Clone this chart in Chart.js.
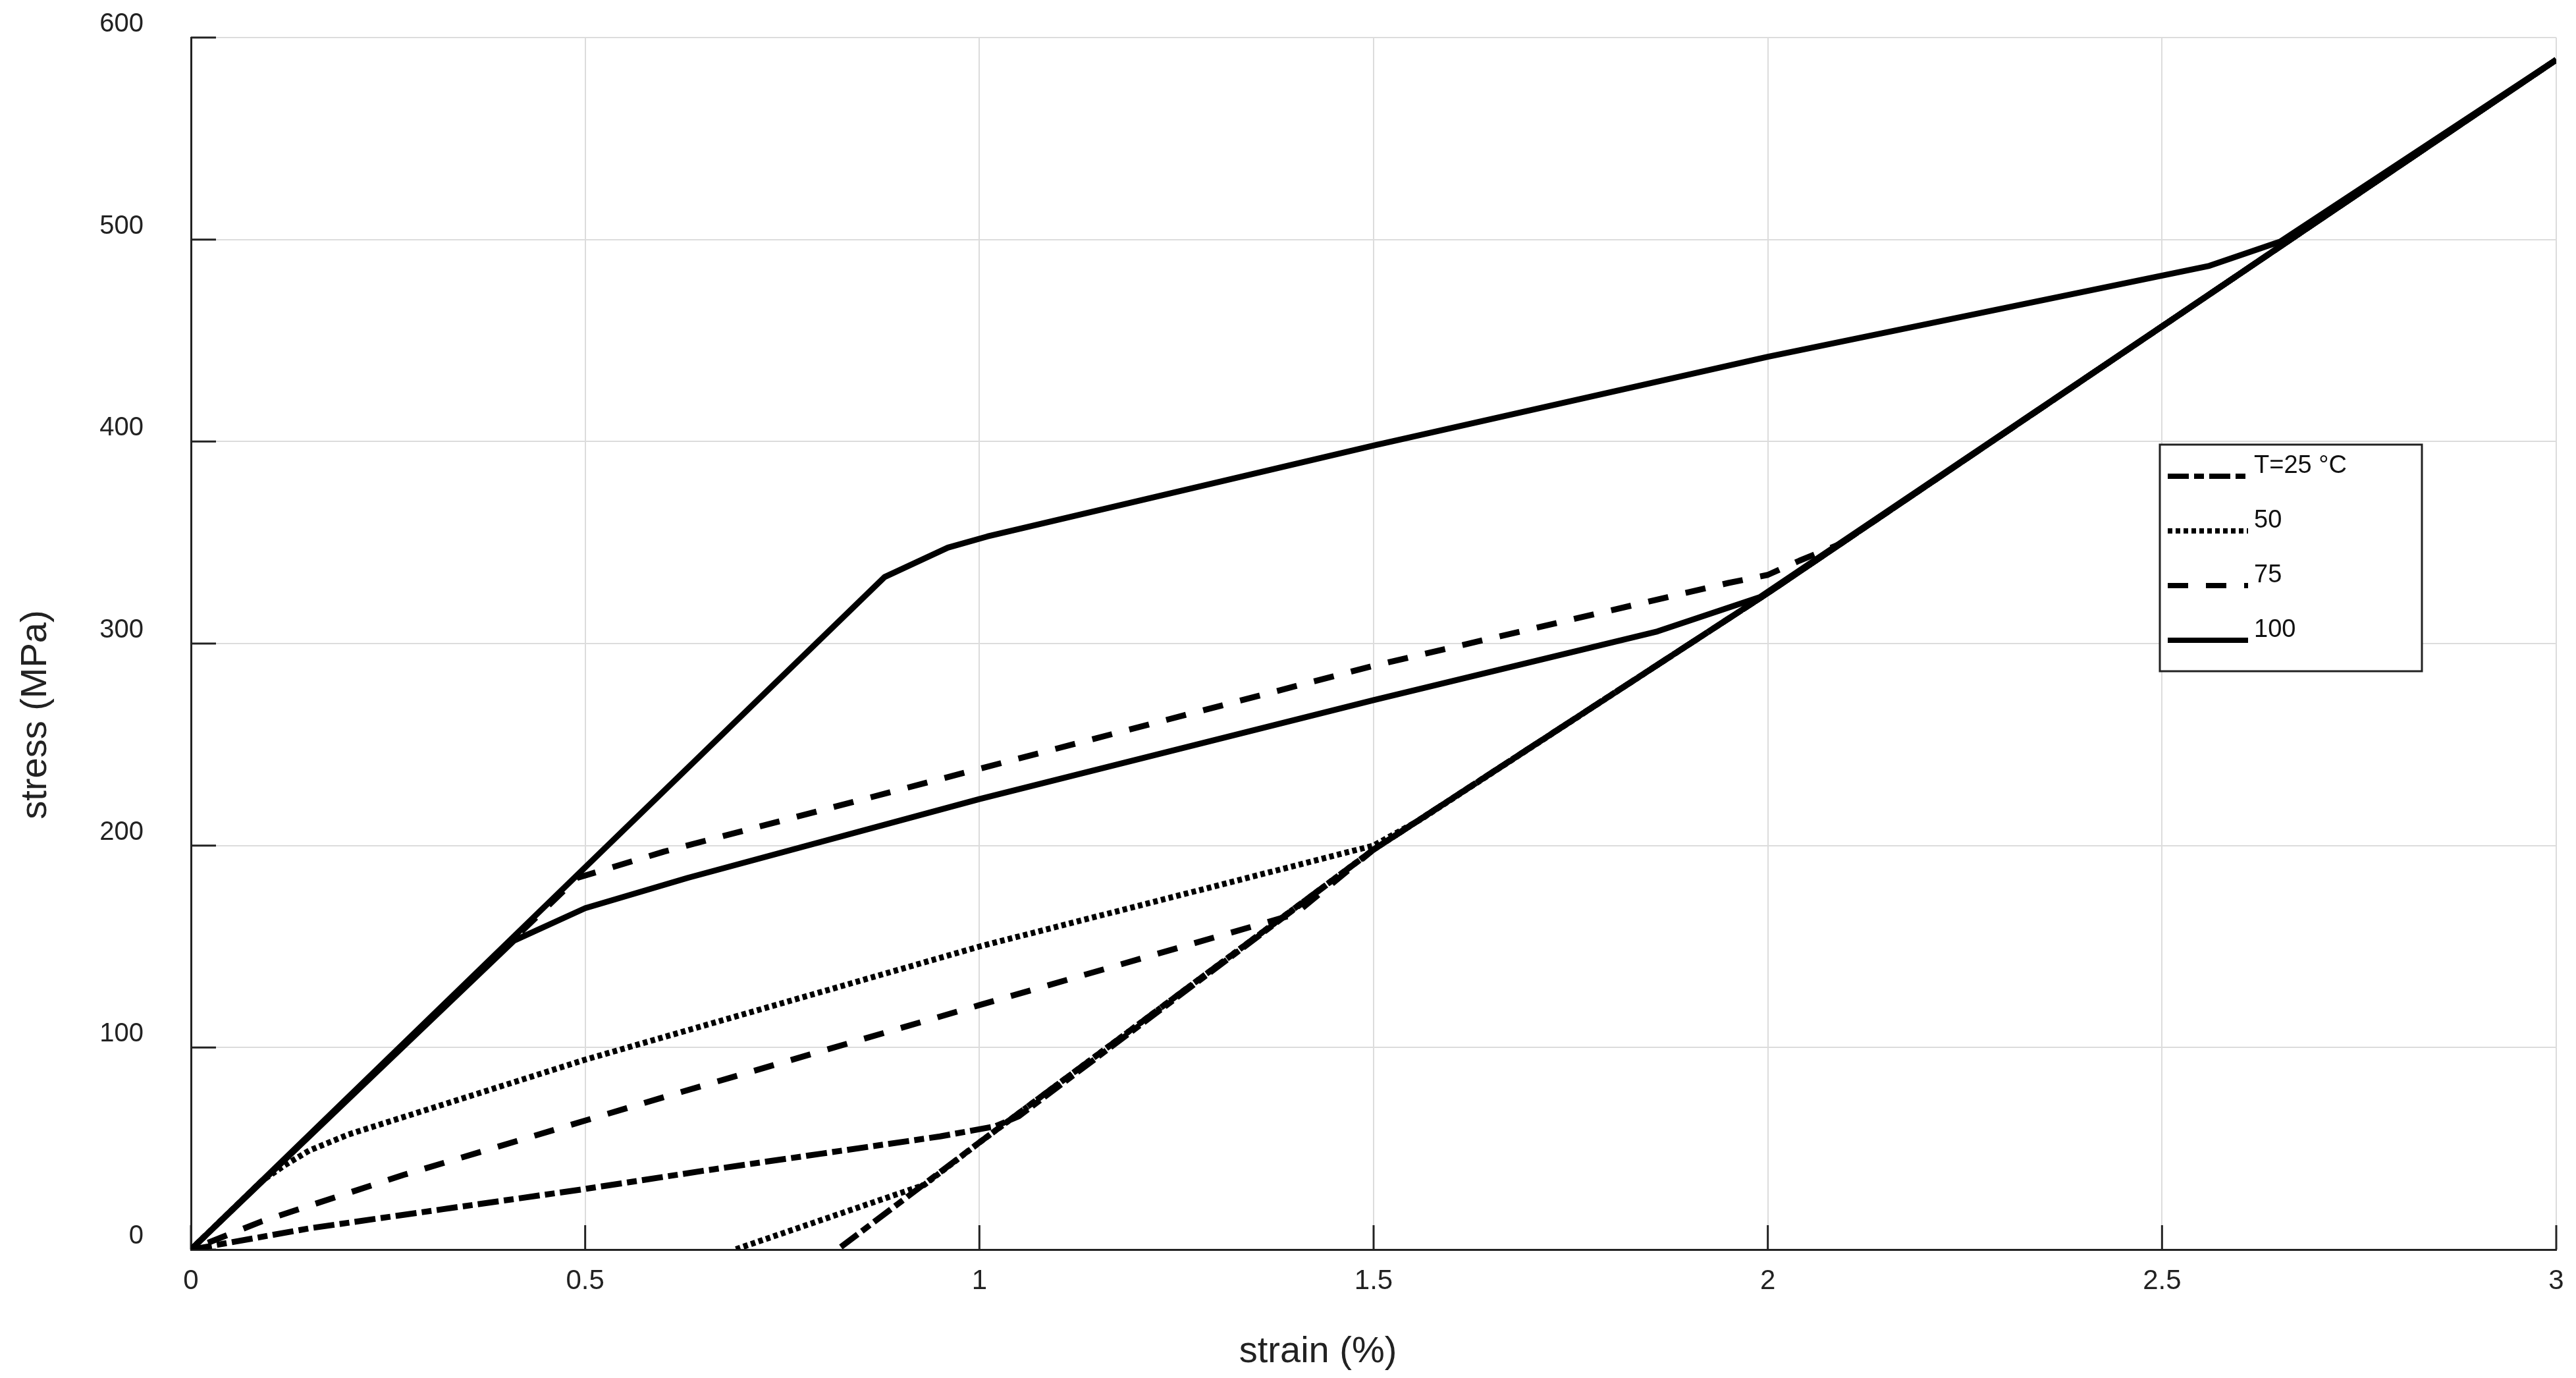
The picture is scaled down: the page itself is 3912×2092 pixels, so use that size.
<!DOCTYPE html>
<html>
<head>
<meta charset="utf-8">
<script src="https://cdn.jsdelivr.net/npm/chart.js@4.4.1/dist/chart.umd.min.js"></script>
<style>
html,body{margin:0;padding:0;background:#fff;}
canvas{display:block;}
</style>
</head>
<body>
<canvas id="c" width="3912" height="2092"></canvas>
<script>
// ---- data (strain in %, stress in MPa) ----
const seriesLabels = ['T=25 °C', '50', '75', '100'];

const strain25 = [0, 0.15, 0.32, 0.5, 0.65, 0.8, 0.95, 1.02, 1.05, 1.5, 2.0, 2.5, 3.0, 2.5, 2.0, 1.5, 1.0, 0.82];
const stress25 = [0, 10.5, 20, 30, 39, 47.5, 56, 61, 66, 198, 325, 457, 589, 457, 325, 198, 53, 0];

const strain50 = [0, 0.09, 0.12, 0.15, 0.2, 0.5, 1.0, 1.5, 1.56, 2.0, 2.5, 3.0, 2.5, 2.0, 1.5, 1.0, 0.93, 0.69];
const stress50 = [0, 34, 42, 49, 57, 94, 150, 200, 213, 325, 457, 589, 457, 325, 198, 53, 32, 0];

const strain75 = [0, 0.49, 0.6, 1.0, 1.5, 1.95, 2.0, 2.04, 2.09, 2.5, 3.0, 2.5, 2.0, 1.5, 1.40, 1.0, 0.6, 0.27, 0.09, 0];
const stress75 = [0, 184, 197, 238, 289, 330, 334, 341, 349, 457, 589, 457, 325, 198, 166, 121, 75.5, 37, 14, 0];

const strain100 = [0, 0.88, 0.96, 1.01, 1.5, 2.0, 2.56, 2.65, 3.0, 2.5, 1.99, 1.86, 1.5, 1.0, 0.63, 0.5, 0.41, 0];
const stress100 = [0, 333, 347.5, 353, 398, 442, 487, 499, 589, 457, 323, 306, 272, 223, 184, 169, 153, 0];

const xTickLabels = ['0', '0.5', '1', '1.5', '2', '2.5', '3'];
const yTickLabels = ['0', '100', '200', '300', '400', '500', '600'];
const xAxisTitle = 'strain (%)';
const yAxisTitle = 'stress (MPa)';

// ---- styles ----
const dashes = [[32, 8, 15, 8], [7, 5], [31, 27], []];
const FONT = "'Liberation Sans', Arial, sans-serif";

function pts(xs, ys) { return xs.map((x, i) => ({ x: x, y: ys[i] })); }

const seriesX = [strain25, strain50, strain75, strain100];
const seriesY = [stress25, stress50, stress75, stress100];

const datasets = seriesLabels.map((lab, i) => ({
  label: lab,
  data: pts(seriesX[i], seriesY[i]),
  showLine: true,
  borderColor: '#000',
  backgroundColor: '#000',
  borderWidth: 9,
  borderDash: dashes[i],
  borderCapStyle: 'butt',
  borderJoinStyle: 'bevel',
  pointRadius: 0,
  pointHoverRadius: 0,
  tension: 0,
  fill: false
}));

const innerTicks = {
  id: 'innerTicks',
  beforeDatasetsDraw(chart) {
    const { ctx, chartArea: a, scales: { x, y } } = chart;
    ctx.save();
    ctx.strokeStyle = '#222';
    ctx.lineWidth = 3;
    x.ticks.forEach(t => {
      const px = x.getPixelForValue(t.value);
      ctx.beginPath(); ctx.moveTo(px, a.bottom); ctx.lineTo(px, a.bottom - 37); ctx.stroke();
    });
    y.ticks.forEach(t => {
      const py = y.getPixelForValue(t.value);
      ctx.beginPath(); ctx.moveTo(a.left, py); ctx.lineTo(a.left + 38, py); ctx.stroke();
    });
    ctx.restore();
  }
};

const axisTitles = {
  id: 'axisTitles',
  afterDraw(chart) {
    const { ctx, chartArea: a } = chart;
    ctx.save();
    ctx.fillStyle = '#222';
    ctx.font = '56px ' + FONT;
    ctx.textAlign = 'center';
    ctx.textBaseline = 'middle';
    ctx.fillText(xAxisTitle, a.left + (a.right - a.left) * 0.4765, a.bottom + 156);
    ctx.translate(55, a.top + (a.bottom - a.top) * 0.5587);
    ctx.rotate(-Math.PI / 2);
    ctx.fillText(yAxisTitle, 0, 0);
    ctx.restore();
  }
};

const boxLegend = {
  id: 'boxLegend',
  afterDraw(chart) {
    const ctx = chart.ctx;
    const left = 3280, top = 675, w = 398, h = 344;
    ctx.save();
    ctx.fillStyle = '#fff';
    ctx.fillRect(left, top, w, h);
    ctx.strokeStyle = '#222';
    ctx.lineWidth = 3;
    ctx.strokeRect(left, top, w, h);
    chart.data.datasets.forEach((ds, i) => {
      const ly = top + 48 + i * 83;
      ctx.beginPath();
      ctx.setLineDash(ds.borderDash);
      ctx.lineCap = 'butt';
      ctx.lineWidth = 8;
      ctx.strokeStyle = '#000';
      ctx.moveTo(left + 12, ly);
      ctx.lineTo(left + 134, ly);
      ctx.stroke();
      ctx.setLineDash([]);
      ctx.fillStyle = '#111';
      ctx.font = '38px ' + FONT;
      ctx.textAlign = 'left';
      ctx.textBaseline = 'alphabetic';
      ctx.fillText(ds.label, left + 143, ly - 5);
    });
    ctx.restore();
  }
};

new Chart(document.getElementById('c'), {
  type: 'scatter',
  data: { datasets: datasets },
  options: {
    responsive: false,
    animation: false,
    devicePixelRatio: 1,
    layout: { padding: { left: 0, top: 57, right: 30, bottom: 0 } },
    plugins: {
      legend: { display: false },
      tooltip: { enabled: false }
    },
    scales: {
      x: {
        type: 'linear',
        min: 0, max: 3,
        afterFit(scale) { scale.height = 195; scale.paddingLeft = 0; scale.paddingRight = 0; },
        ticks: {
          stepSize: 0.5,
          padding: 23,
          color: '#222',
          font: { family: FONT, size: 42 },
          callback: (v, i) => xTickLabels[i]
        },
        grid: { color: '#dcdcdc', lineWidth: 2, drawTicks: false },
        border: { display: true, color: '#222', width: 3 },
        title: { display: false, text: xAxisTitle }
      },
      y: {
        type: 'linear',
        min: 0, max: 600,
        afterFit(scale) { scale.width = 290; scale.paddingTop = 0; scale.paddingBottom = 0; },
        ticks: {
          stepSize: 100,
          padding: 72,
          labelOffset: -20,
          color: '#222',
          font: { family: FONT, size: 40 },
          callback: (v, i) => yTickLabels[i]
        },
        grid: { color: '#dcdcdc', lineWidth: 2, drawTicks: false },
        border: { display: true, color: '#222', width: 3 },
        title: { display: false, text: yAxisTitle }
      }
    }
  },
  plugins: [innerTicks, axisTitles, boxLegend]
});
</script>
</body>
</html>
